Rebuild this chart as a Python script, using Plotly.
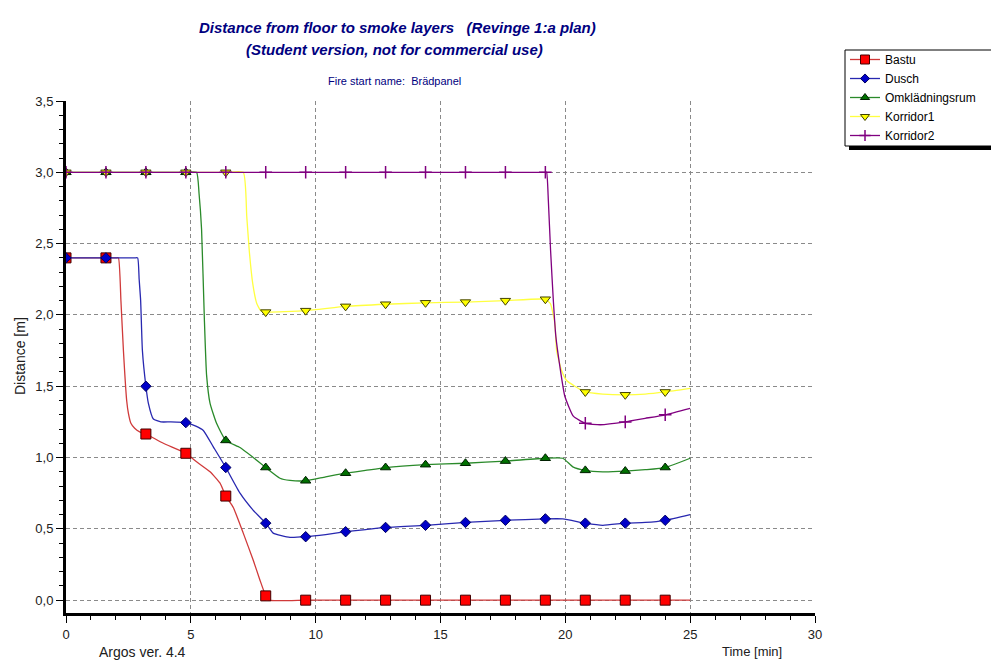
import plotly.graph_objects as go

# ---- data: smoke layer height above floor [m] vs. time [min] ----
marker_times = [0, 1.6, 3.2, 4.8, 6.4, 8.0, 9.6, 11.2, 12.8, 14.4, 16.0, 17.6, 19.2, 20.8, 22.4, 24.0]

bastu_t = [0, 1.6, 2.0, 2.1, 2.2, 2.3, 2.43, 2.5, 2.6, 2.75, 2.95, 3.2, 3.9, 4.8, 5.23, 5.77, 6.17, 6.4,
           6.7, 7.1, 7.5, 7.77, 8.0, 8.12, 9.6, 11.2, 12.8, 14.4, 16.0, 17.6, 19.2, 20.8, 22.4, 24.0, 25.0]
bastu_v = [2.4, 2.4, 2.4, 2.4, 2.1, 1.75, 1.40, 1.31, 1.24, 1.205, 1.18, 1.165, 1.10, 1.03, 0.97, 0.90, 0.82, 0.73,
           0.65, 0.47, 0.28, 0.14, 0.03, 0.0, 0.0, 0.0, 0.0, 0.0, 0.0, 0.0, 0.0, 0.0, 0.0, 0.0, 0.0]

dusch_t = [0, 1.6, 2.75, 2.87, 2.93, 2.99, 3.06, 3.2, 3.3, 3.5, 3.8, 4.2, 4.8, 5.2, 5.5, 5.9, 6.4, 6.97,
           7.5, 8.0, 8.3, 8.97, 9.6, 10.4, 11.2, 12.0, 12.8, 14.4, 16.0, 17.6, 19.2, 19.9, 20.8,
           21.5, 22.4, 23.2, 24.0, 25.0]
dusch_v = [2.4, 2.4, 2.4, 2.4, 2.25, 2.1, 1.75, 1.50, 1.38, 1.27, 1.25, 1.25, 1.245, 1.22, 1.19, 1.075,
           0.93, 0.75, 0.63, 0.54, 0.47, 0.44, 0.445, 0.46, 0.48, 0.495, 0.51, 0.525, 0.545, 0.56,
           0.57, 0.57, 0.54, 0.525, 0.54, 0.545, 0.56, 0.60]

omkl_t = [0, 1.6, 3.2, 4.8, 5.23, 5.33, 5.43, 5.54, 5.63, 5.77, 6.03, 6.4, 6.97, 7.5, 8.0, 8.57,
          8.97, 9.6, 10.4, 11.2, 12.0, 12.8, 14.4, 16.0, 17.6, 19.2, 19.9, 20.3, 20.8, 21.5, 22.4,
          23.2, 24.0, 25.0]
omkl_v = [3.0, 3.0, 3.0, 3.0, 3.0, 2.85, 2.6, 1.98, 1.58, 1.38, 1.24, 1.12, 1.07, 1.0, 0.93, 0.855,
          0.84, 0.837, 0.865, 0.89, 0.91, 0.93, 0.95, 0.96, 0.975, 0.995, 0.995, 0.935, 0.91, 0.90,
          0.905, 0.915, 0.93, 0.995]

korr1_t = [0, 1.6, 3.2, 4.8, 6.4, 7.1, 7.24, 7.34, 7.48, 7.64, 7.8, 8.0, 9.6, 11.2, 12.8, 14.4,
           16.0, 17.6, 19.2, 19.4, 19.58, 19.65, 19.85, 20.05, 20.38, 20.8, 21.5, 22.4, 23.2, 24.0, 25.0]
korr1_v = [3.0, 3.0, 3.0, 3.0, 3.0, 3.0, 2.69, 2.45, 2.22, 2.08, 2.03, 2.02, 2.03, 2.06, 2.075, 2.085,
           2.09, 2.10, 2.11, 2.08, 1.94, 1.75, 1.61, 1.54, 1.50, 1.46, 1.445, 1.44, 1.445, 1.46, 1.485]

korr2_t = [0, 1.6, 3.2, 4.8, 6.4, 8.0, 9.6, 11.2, 12.8, 14.4, 16.0, 17.6, 19.2, 19.25, 19.32, 19.41,
           19.52, 19.62, 19.78, 19.98, 20.32, 20.8, 21.4, 22.4, 23.2, 24.0, 25.0]
korr2_v = [3.0, 3.0, 3.0, 3.0, 3.0, 3.0, 3.0, 3.0, 3.0, 3.0, 3.0, 3.0, 3.0, 3.0, 2.8, 2.45,
           2.10, 1.85, 1.64, 1.43, 1.29, 1.24, 1.23, 1.25, 1.275, 1.30, 1.345]

series_names = ["Bastu", "Dusch", "Omklädningsrum", "Korridor1", "Korridor2"]
x_ticks = [0, 5, 10, 15, 20, 25, 30]
y_ticks = [0.0, 0.5, 1.0, 1.5, 2.0, 2.5, 3.0, 3.5]

# ---- styles ----
styles = [
    dict(line="#d03a3a", symbol="square", fill="#ff0000", edge="#400000", size=10, lw=1),
    dict(line="#2828b0", symbol="diamond", fill="#0000c8", edge="#000060", size=8, lw=1),
    dict(line="#2a8a2a", symbol="triangle-up", fill="#007000", edge="#002000", size=9, lw=1),
    dict(line="#ffff40", symbol="triangle-down", fill="#ffff00", edge="#404000", size=9, lw=1),
    dict(line="#800080", symbol="cross-thin", fill="#800080", edge="#800080", size=9, lw=1.5),
]

FONT = "Arial, Liberation Sans, sans-serif"
W, H = 991, 662
L, R, T, B = 66, 815, 101, 613          # plot area in pixels


def px_x(x):
    return (x - L) / (R - L)


def px_y(y):
    return (B - y) / (B - T)


fig = go.Figure()
data = [(bastu_t, bastu_v), (dusch_t, dusch_v), (omkl_t, omkl_v),
        (korr1_t, korr1_v), (korr2_t, korr2_v)]

for name, (tt, vv), st in zip(series_names, data, styles):
    # smooth curve
    fig.add_trace(go.Scatter(x=tt, y=vv, mode="lines", showlegend=False, hoverinfo="skip",
                             line=dict(color=st["line"], width=1.3, shape="spline", smoothing=0.45)))
    # markers at the sampling times
    keep = [any(abs(t - m) < 1e-9 for m in marker_times) for t in tt]
    mx = [t for t, k in zip(tt, keep) if k]
    my = [v for v, k in zip(vv, keep) if k]
    fig.add_trace(go.Scatter(x=mx, y=my, mode="markers", showlegend=False, name=name,
                             marker=dict(symbol=st["symbol"], size=st["size"], color=st["fill"],
                                         line=dict(color=st["edge"], width=st["lw"]))))

# legend entries
for name, st in zip(series_names, styles):
    fig.add_trace(go.Scatter(x=[None], y=[None], mode="lines+markers", name=name,
                             line=dict(color=st["line"], width=1.3),
                             marker=dict(symbol=st["symbol"], size=st["size"] - 1, color=st["fill"],
                                         line=dict(color=st["edge"], width=st["lw"]))))

annotations = [
    dict(text="<b><i>Distance from floor to smoke layers\u00a0\u00a0\u00a0(Revinge 1:a plan)</i></b>",
         x=px_x(397), y=px_y(27), font=dict(size=15, color="#000080", family=FONT)),
    dict(text="<b><i>(Student version, not for commercial use)</i></b>",
         x=px_x(394), y=px_y(49), font=dict(size=15, color="#000080", family=FONT)),
    dict(text="Fire start name:\u00a0\u00a0Brädpanel",
         x=px_x(394), y=px_y(81), font=dict(size=11, color="#000080", family=FONT)),
    dict(text="Argos ver. 4.4", x=px_x(142), y=px_y(652),
         font=dict(size=14, color="#202020", family=FONT)),
    dict(text="Time [min]", x=px_x(752), y=px_y(651),
         font=dict(size=13, color="#202020", family=FONT)),
    dict(text="Distance [m]", x=px_x(20), y=px_y(356), textangle=-90,
         font=dict(size=14, color="#202020", family=FONT)),
]
for a in annotations:
    a.update(xref="paper", yref="paper", showarrow=False, xanchor="center", yanchor="middle")

# legend frame: drop shadow plus white box running off the right edge
shapes = [
    dict(type="rect", xref="paper", yref="paper", layer="above",
         x0=px_x(849), x1=px_x(1000), y0=px_y(54), y1=px_y(150),
         fillcolor="black", line=dict(width=0)),
    dict(type="rect", xref="paper", yref="paper", layer="above",
         x0=px_x(845), x1=px_x(1000), y0=px_y(50), y1=px_y(146),
         fillcolor="white", line=dict(color="black", width=1)),
]

grid = dict(showgrid=True, gridcolor="#8a8a8a", griddash="4px,3px", gridwidth=1,
            zeroline=False, showline=True, linecolor="black", linewidth=3,
            ticks="outside", ticklen=7, tickcolor="black", tickwidth=1,
            tickfont=dict(size=13))

fig.update_layout(
    width=W, height=H,
    margin=dict(l=L, r=W - R, t=T, b=H - B, pad=0, autoexpand=False),
    paper_bgcolor="white", plot_bgcolor="white",
    separators=", ",
    font=dict(family=FONT, size=13, color="#202020"),
    annotations=annotations,
    shapes=shapes,
    legend=dict(x=px_x(845), y=px_y(45), xanchor="left", yanchor="top",
                bgcolor="rgba(0,0,0,0)", borderwidth=0,
                font=dict(size=12, color="black", family=FONT),
                itemwidth=30),
    xaxis=dict(range=[0, 30], tickvals=x_ticks,
               minor=dict(dtick=1, ticks="outside", ticklen=4, tickcolor="black",
                          showgrid=False), **grid),
    yaxis=dict(range=[-0.09, 3.5], tickvals=y_ticks, tickformat=".1f",
               minor=dict(dtick=0.1, ticks="outside", ticklen=4, tickcolor="black",
                          showgrid=False), **grid),
)

fig.write_html("out.html")
